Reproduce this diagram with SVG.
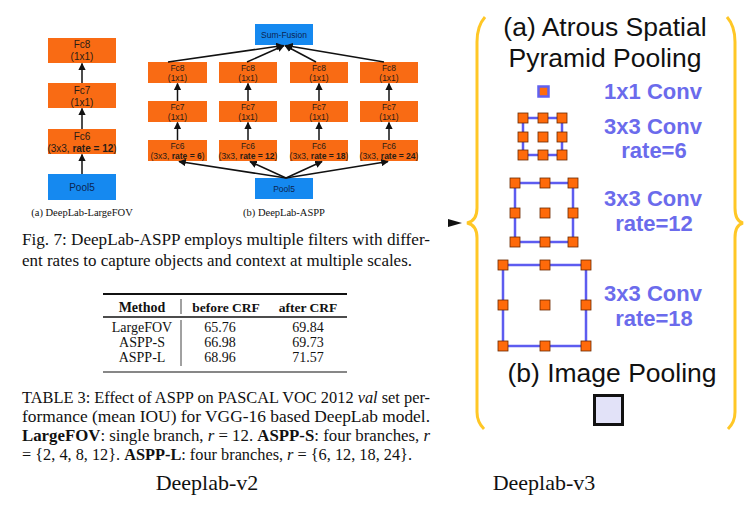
<svg xmlns="http://www.w3.org/2000/svg" width="745" height="509" viewBox="0 0 745 509">
<style>
.ob{fill:#f96b14;}
.bb{fill:#1589f0;}
.bt{font-family:"Liberation Sans",Arial,sans-serif;fill:#2a1c14;text-anchor:middle;}
.pt{font-family:"Liberation Sans",Arial,sans-serif;fill:#0b2550;text-anchor:middle;}
.s{font-family:"Liberation Serif","Times New Roman",serif;fill:#111;}
.c{stroke:#111;stroke-width:1.5;fill:none;marker-end:url(#ah);}
.cv{font-family:"Liberation Sans",Arial,sans-serif;font-weight:bold;font-size:22px;fill:#6b6bec;text-anchor:middle;}
.ti{font-family:"Liberation Sans",Arial,sans-serif;font-size:26.5px;fill:#111;text-anchor:middle;}
.br{fill:none;stroke:#5d5cf0;stroke-width:2.5;}
.sq{fill:#ff6a0a;stroke:#6b2a00;stroke-width:0.8;}
.brace{fill:none;stroke:#ffc726;stroke-width:3;}
</style>
<defs>
<marker id="ah" viewBox="0 0 10 10" refX="9" refY="5" markerWidth="5" markerHeight="5" orient="auto">
<path d="M0,0 L10,5 L0,10 z" fill="#111"/>
</marker>
</defs>
<rect width="745" height="509" fill="#fff"/>

<!-- (a) DeepLab-LargeFOV -->
<g id="a-fc8"><rect class="ob" x="48" y="38" width="68" height="25"/>
<text class="bt" x="82" y="48" font-size="10">Fc8</text><text class="bt" x="82" y="60" font-size="10">(1x1)</text></g>
<g id="a-fc7"><rect class="ob" x="48" y="83" width="68" height="25"/>
<text class="bt" x="82" y="94" font-size="10">Fc7</text><text class="bt" x="82" y="106" font-size="10">(1x1)</text></g>
<g id="a-fc6"><rect class="ob" x="48" y="129" width="68" height="25"/>
<text class="bt" x="82" y="140" font-size="10">Fc6</text><text class="bt" x="82" y="152" font-size="10">(3x3, <tspan font-weight="bold">rate = 12</tspan>)</text></g>
<g id="a-pool5"><rect class="bb" x="48" y="174" width="68" height="26"/>
<text class="pt" x="82" y="191" font-size="10">Pool5</text></g>
<text class="s" x="82" y="216" font-size="10.5" text-anchor="middle">(a) DeepLab-LargeFOV</text>

<!-- (b) DeepLab-ASPP -->
<g id="b-sum"><rect class="bb" x="255" y="24" width="58" height="21"/>
<text class="pt" x="284" y="38" font-size="8.5">Sum-Fusion</text></g>
<g id="b-pool5"><rect class="bb" x="255" y="178" width="58" height="21"/>
<text class="pt" x="284" y="192" font-size="8.5">Pool5</text></g>

<g id="b1-fc8"><rect class="ob" x="148" y="62" width="59" height="21"/><text class="bt" x="177.5" y="71" font-size="8.5">Fc8</text><text class="bt" x="177.5" y="81" font-size="8.5">(1x1)</text></g>
<g id="b1-fc7"><rect class="ob" x="148" y="101" width="59" height="21"/><text class="bt" x="177.5" y="110" font-size="8.5">Fc7</text><text class="bt" x="177.5" y="120" font-size="8.5">(1x1)</text></g>
<g id="b1-fc6"><rect class="ob" x="148" y="140" width="59" height="21"/><text class="bt" x="177.5" y="149" font-size="8.5">Fc6</text><text class="bt" x="177.5" y="159" font-size="8.5">(3x3, <tspan font-weight="bold">rate = 6</tspan>)</text></g>

<g id="b2-fc8"><rect class="ob" x="219" y="62" width="58" height="21"/><text class="bt" x="248" y="71" font-size="8.5">Fc8</text><text class="bt" x="248" y="81" font-size="8.5">(1x1)</text></g>
<g id="b2-fc7"><rect class="ob" x="219" y="101" width="58" height="21"/><text class="bt" x="248" y="110" font-size="8.5">Fc7</text><text class="bt" x="248" y="120" font-size="8.5">(1x1)</text></g>
<g id="b2-fc6"><rect class="ob" x="219" y="140" width="58" height="21"/><text class="bt" x="248" y="149" font-size="8.5">Fc6</text><text class="bt" x="248" y="159" font-size="8.5">(3x3, <tspan font-weight="bold">rate = 12</tspan>)</text></g>

<g id="b3-fc8"><rect class="ob" x="290" y="62" width="58" height="21"/><text class="bt" x="319" y="71" font-size="8.5">Fc8</text><text class="bt" x="319" y="81" font-size="8.5">(1x1)</text></g>
<g id="b3-fc7"><rect class="ob" x="290" y="101" width="58" height="21"/><text class="bt" x="319" y="110" font-size="8.5">Fc7</text><text class="bt" x="319" y="120" font-size="8.5">(1x1)</text></g>
<g id="b3-fc6"><rect class="ob" x="290" y="140" width="58" height="21"/><text class="bt" x="319" y="149" font-size="8.5">Fc6</text><text class="bt" x="319" y="159" font-size="8.5">(3x3, <tspan font-weight="bold">rate = 18</tspan>)</text></g>

<g id="b4-fc8"><rect class="ob" x="360" y="62" width="58" height="21"/><text class="bt" x="389" y="71" font-size="8.5">Fc8</text><text class="bt" x="389" y="81" font-size="8.5">(1x1)</text></g>
<g id="b4-fc7"><rect class="ob" x="360" y="101" width="58" height="21"/><text class="bt" x="389" y="110" font-size="8.5">Fc7</text><text class="bt" x="389" y="120" font-size="8.5">(1x1)</text></g>
<g id="b4-fc6"><rect class="ob" x="360" y="140" width="58" height="21"/><text class="bt" x="389" y="149" font-size="8.5">Fc6</text><text class="bt" x="389" y="159" font-size="8.5">(3x3, <tspan font-weight="bold">rate = 24</tspan>)</text></g>

<text class="s" x="284" y="216" font-size="10.5" text-anchor="middle">(b) DeepLab-ASPP</text>

<g id="connectors">
<line class="c" x1="82" y1="83" x2="82" y2="63.5"/>
<line class="c" x1="82" y1="129" x2="82" y2="108.5"/>
<line class="c" x1="82" y1="174" x2="82" y2="154.5"/>
<line class="c" x1="177.5" y1="101" x2="177.5" y2="83.5"/>
<line class="c" x1="177.5" y1="140" x2="177.5" y2="122.5"/>
<line class="c" x1="248" y1="101" x2="248" y2="83.5"/>
<line class="c" x1="248" y1="140" x2="248" y2="122.5"/>
<line class="c" x1="319" y1="101" x2="319" y2="83.5"/>
<line class="c" x1="319" y1="140" x2="319" y2="122.5"/>
<line class="c" x1="389" y1="101" x2="389" y2="83.5"/>
<line class="c" x1="389" y1="140" x2="389" y2="122.5"/>
<line class="c" x1="168" y1="62" x2="283" y2="45.5"/>
<line class="c" x1="247" y1="62" x2="284" y2="45.5"/>
<line class="c" x1="316" y1="62" x2="285" y2="45.5"/>
<line class="c" x1="384" y1="62" x2="286" y2="45.5"/>
<line class="c" x1="286" y1="178" x2="179" y2="161.5"/>
<line class="c" x1="286" y1="178" x2="250" y2="161.5"/>
<line class="c" x1="286" y1="178" x2="322" y2="161.5"/>
<line class="c" x1="286" y1="178" x2="388" y2="161.5"/>
</g>

<!-- Captions -->
<text class="s" font-size="16" x="22" y="245" textLength="408" lengthAdjust="spacingAndGlyphs">Fig. 7: DeepLab-ASPP employs multiple filters with differ-</text>
<text class="s" font-size="16" x="22" y="266" textLength="390" lengthAdjust="spacingAndGlyphs">ent rates to capture objects and context at multiple scales.</text>

<!-- Table -->
<g id="table">
<line x1="103" y1="294" x2="347" y2="294" stroke="#111" stroke-width="2"/>
<line x1="103" y1="317" x2="347" y2="317" stroke="#111" stroke-width="1.5"/>
<line x1="103" y1="372" x2="347" y2="372" stroke="#111" stroke-width="1.2"/>
<line x1="181" y1="299" x2="181" y2="314" stroke="#111" stroke-width="0.8"/>
<line x1="181" y1="320" x2="181" y2="366" stroke="#111" stroke-width="0.8"/>
<g class="s" font-size="14" text-anchor="middle">
<text x="142" y="312" font-weight="bold">Method</text>
<text x="226" y="312" font-weight="bold" font-size="13.5">before CRF</text>
<text x="308" y="312" font-weight="bold" font-size="13.5">after CRF</text>
<text x="142" y="332">LargeFOV</text><text x="220" y="332">65.76</text><text x="308" y="332">69.84</text>
<text x="142" y="347">ASPP-S</text><text x="220" y="347">66.98</text><text x="308" y="347">69.73</text>
<text x="142" y="362">ASPP-L</text><text x="220" y="362">68.96</text><text x="308" y="362">71.57</text>
</g>
</g>

<g class="s" font-size="16">
<text x="22" y="403" textLength="408" lengthAdjust="spacingAndGlyphs">TABLE 3: Effect of ASPP on PASCAL VOC 2012 <tspan font-style="italic">val</tspan> set per-</text>
<text x="22" y="422" textLength="408" lengthAdjust="spacingAndGlyphs">formance (mean IOU) for VGG-16 based DeepLab model.</text>
<text x="22" y="441" textLength="408" lengthAdjust="spacingAndGlyphs"><tspan font-weight="bold">LargeFOV</tspan>: single branch, <tspan font-style="italic">r</tspan> = 12. <tspan font-weight="bold">ASPP-S</tspan>: four branches, <tspan font-style="italic">r</tspan></text>
<text x="22" y="460" textLength="390" lengthAdjust="spacingAndGlyphs">= {2, 4, 8, 12}. <tspan font-weight="bold">ASPP-L</tspan>: four branches, <tspan font-style="italic">r</tspan> = {6, 12, 18, 24}.</text>
</g>

<text class="s" font-size="22" x="207" y="490" text-anchor="middle">Deeplab-v2</text>
<text class="s" font-size="22" x="544" y="490" text-anchor="middle">Deeplab-v3</text>

<!-- Deeplab-v3 panel -->
<path d="M448,219 L462,223 L448,227 z" fill="#111"/>
<path class="brace" d="M485,17 Q477,26 477,42 L477,208 Q477,221 467,223 Q477,225 477,238 L477,412 Q477,422 484,429"/>
<path class="brace" d="M727,17 Q735,26 735,42 L735,208 Q735,221 743,223 Q735,225 735,238 L735,412 Q735,422 728,429"/>

<text class="ti" x="605" y="36">(a) Atrous Spatial</text>
<text class="ti" x="605" y="67">Pyramid Pooling</text>

<g id="conv1x1">
<rect x="538.5" y="86.5" width="10" height="10" fill="#ff6a0a" stroke="#6060f0" stroke-width="2.5"/>
<text class="cv" x="653" y="99">1x1 Conv</text>
</g>

<g id="conv-r6">
<rect class="br" x="523" y="118" width="39" height="37"/>
<rect class="sq" x="518" y="113" width="10" height="10"/><rect class="sq" x="538" y="113" width="10" height="10"/><rect class="sq" x="557" y="113" width="10" height="10"/>
<rect class="sq" x="518" y="132" width="10" height="10"/><rect class="sq" x="538" y="132" width="10" height="10"/><rect class="sq" x="557" y="132" width="10" height="10"/>
<rect class="sq" x="518" y="150" width="10" height="10"/><rect class="sq" x="538" y="150" width="10" height="10"/><rect class="sq" x="557" y="150" width="10" height="10"/>
<text class="cv" x="653" y="134">3x3 Conv</text>
<text class="cv" x="654" y="158">rate=6</text>
</g>

<g id="conv-r12">
<rect class="br" x="515" y="183" width="58" height="59"/>
<rect class="sq" x="510" y="178" width="10" height="10"/><rect class="sq" x="540" y="178" width="10" height="10"/><rect class="sq" x="568" y="178" width="10" height="10"/>
<rect class="sq" x="510" y="208" width="10" height="10"/><rect class="sq" x="540" y="208" width="10" height="10"/><rect class="sq" x="568" y="208" width="10" height="10"/>
<rect class="sq" x="510" y="237" width="10" height="10"/><rect class="sq" x="540" y="237" width="10" height="10"/><rect class="sq" x="568" y="237" width="10" height="10"/>
<text class="cv" x="653" y="206">3x3 Conv</text>
<text class="cv" x="654" y="231">rate=12</text>
</g>

<g id="conv-r18">
<rect class="br" x="503" y="265" width="83" height="81"/>
<rect class="sq" x="498" y="260" width="10" height="10"/><rect class="sq" x="540" y="260" width="10" height="10"/><rect class="sq" x="581" y="260" width="10" height="10"/>
<rect class="sq" x="498" y="300" width="10" height="10"/><rect class="sq" x="540" y="300" width="10" height="10"/><rect class="sq" x="581" y="300" width="10" height="10"/>
<rect class="sq" x="498" y="341" width="10" height="10"/><rect class="sq" x="540" y="341" width="10" height="10"/><rect class="sq" x="581" y="341" width="10" height="10"/>
<text class="cv" x="653" y="301">3x3 Conv</text>
<text class="cv" x="654" y="326">rate=18</text>
</g>

<text class="ti" x="612" y="382">(b) Image Pooling</text>
<g id="image-pooling">
<rect x="594.5" y="395.5" width="28" height="29" fill="#e2e2f8" stroke="#111" stroke-width="3"/>
</g>
</svg>
